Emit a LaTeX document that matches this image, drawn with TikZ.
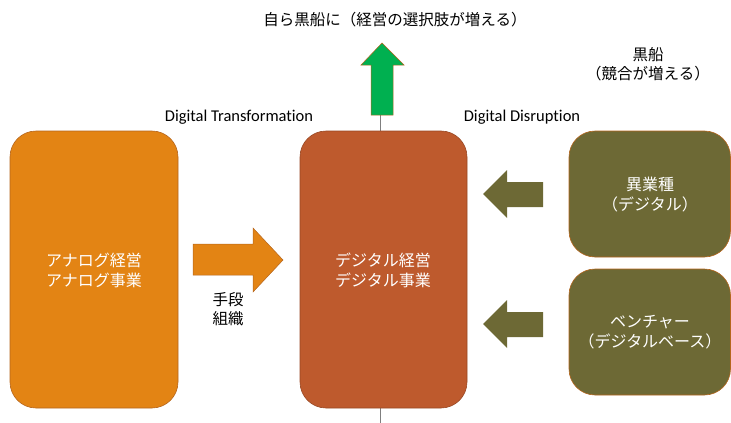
\documentclass[tikz,border=0pt]{standalone}
\usepackage{fontspec}
\setmainfont{Carlito}[Ligatures=CommonOff]
\newfontfamily\jp{Noto Sans CJK JP}
\definecolor{orangeA}{HTML}{E38414}
\definecolor{rustB}{HTML}{BE5A2D}
\definecolor{oliveC}{HTML}{6D6935}
\definecolor{greenD}{HTML}{00B050}
\definecolor{edgeE}{HTML}{B5651D}
\definecolor{lineG}{HTML}{7F7F7F}
\begin{document}
\begin{tikzpicture}[x=1pt,y=-1pt,
  rbox/.style={draw=edgeE,line width=0.6pt,rounded corners=26pt},
  boxtext/.style={text=white,font=\jp\fontsize{16}{20}\selectfont,align=center},
  lab/.style={font=\jp\fontsize{15.5}{19.5}\selectfont,align=center,text=black},
  entext/.style={font=\fontsize{16.5}{18}\selectfont,text=black},
  arr/.style={draw=edgeE,line width=0.5pt}]
\useasboundingbox (0,0) rectangle (731,423);
% gray vertical line
\coordinate (ltop) at (380,115);
\coordinate (lbot) at (380,423);
\draw[lineG,line width=0.8pt] (ltop) -- (lbot);
% boxes
\path[rbox,fill=orangeA] (10,131) rectangle (178,408);
\node[boxtext] (ana) at (94,270) {アナログ経営\\アナログ事業};
\path[rbox,fill=rustB,draw=rustB!80!black] (300,131) rectangle (467,408);
\node[boxtext] (dig) at (383,270) {デジタル経営\\デジタル事業};
\path[rbox,fill=oliveC] (569,131) rectangle (730.5,257);
\node[boxtext] (iyo) at (650,195) {異業種\\（デジタル）};
\path[rbox,fill=oliveC] (569,269) rectangle (730.5,395);
\node[boxtext] (ven) at (650,332) {ベンチャー\\（デジタルベース）};
% orange right arrow
\path[arr,fill=orangeA] (193,244) -- (253,244) -- (253,228) -- (283,260) -- (253,292) -- (253,275) -- (193,275) -- cycle;
% olive left arrows
\path[fill=oliveC] (543,182) -- (507,182) -- (507,170) -- (483,194) -- (507,218) -- (507,207) -- (543,207) -- cycle;
\path[fill=oliveC] (543,312) -- (507,312) -- (507,300) -- (483,324) -- (507,348) -- (507,337) -- (543,337) -- cycle;
% green up arrow
\path[arr,fill=greenD] (371,115) -- (371,65) -- (361,65) -- (382,43) -- (404,65) -- (393,65) -- (393,115) -- cycle;
% labels
\node[lab] (title) at (395,20) {自ら黒船に（経営の選択肢が増える）};
\node[lab] (kuro) at (648,64) {黒船\\（競合が増える）};
\node[lab] (shudan) at (228,309) {手段\\組織};
\node[entext] (dt) at (239,117) {Digital Transformation};
\node[entext] (dd) at (522,117) {Digital Disruption};
\end{tikzpicture}
\end{document}
